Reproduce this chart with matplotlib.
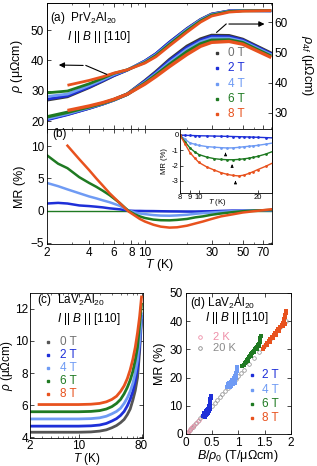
import numpy as np
import matplotlib
matplotlib.use('Agg')
import matplotlib.pyplot as plt
from matplotlib.ticker import FixedLocator, NullFormatter, LogLocator

plt.rcParams['font.family'] = ['Liberation Sans', 'DejaVu Sans']
plt.rcParams['mathtext.fontset'] = 'custom'
plt.rcParams['mathtext.rm'] = 'Liberation Sans'
plt.rcParams['mathtext.it'] = 'Liberation Sans:italic'
plt.rcParams['xtick.direction'] = 'in'
plt.rcParams['ytick.direction'] = 'in'
plt.rcParams['xtick.major.size'] = 3
plt.rcParams['ytick.major.size'] = 3
plt.rcParams['xtick.minor.size'] = 1.6
plt.rcParams['ytick.minor.size'] = 1.6
plt.rcParams['axes.linewidth'] = 0.6
plt.rcParams['xtick.major.width'] = 0.5
plt.rcParams['ytick.major.width'] = 0.5
plt.rcParams['xtick.minor.width'] = 0.4
plt.rcParams['ytick.minor.width'] = 0.4

nan = np.nan
fields = ['0 T', '2 T', '4 T', '6 T', '8 T']
colors = ['#3a3a3a', '#1e2fd8', '#6f9bf4', '#1f7a22', '#e8521e']
text_colors = ['#707070', '#1e2fd8', '#6f9bf4', '#1f7a22', '#e8521e']

# (a) PrV2Al20: rho (left axis) and rho_4f (right axis)
T_a = [2, 2.8, 4, 5, 6, 7.5, 10, 12, 15, 20, 25, 30, 40, 50, 80]
rho_a_0T = [26.9, 28.0, 31.0, 33.1, 34.9, 36.8, 39.8, 42.2, 46.0, 50.5, 53.5, 55.3, 56.3, 56.4, 56.3]
rho_a_2T = [27.2, 28.3, 31.2, 33.3, 35.0, 36.8, 39.8, 42.2, 46.0, 50.4, 53.4, 55.2, 56.3, 56.4, 56.3]
rho_a_4T = [28.1, 28.9, 31.7, 33.6, 35.3, 36.9, 39.6, 41.9, 45.6, 50.2, 53.3, 55.1, 56.2, 56.4, 56.3]
rho_a_6T = [29.3, 29.9, 32.3, 34.1, 35.7, 36.9, 39.3, 41.6, 45.3, 49.8, 53.0, 54.9, 56.1, 56.3, 56.4]
rho_a_8T = [nan, 31.8, 33.4, 34.6, 35.8, 36.9, 39.1, 41.2, 44.8, 49.3, 52.6, 54.6, 55.9, 56.2, 56.4]

rho4f_0T = [28.0, 29.6, 31.6, 33.0, 34.3, 36.2, 40.6, 43.6, 47.6, 52.0, 54.4, 55.6, 55.5, 54.3, 49.7]
rho4f_2T = [27.8, 29.5, 31.6, 33.0, 34.3, 36.2, 40.4, 43.3, 47.2, 51.5, 53.9, 55.2, 55.1, 54.0, 49.4]
rho4f_4T = [28.2, 29.8, 31.8, 33.1, 34.3, 36.2, 40.1, 42.9, 46.6, 50.9, 53.4, 54.6, 54.6, 53.6, 49.1]
rho4f_6T = [28.7, 30.2, 32.0, 33.2, 34.4, 36.2, 39.8, 42.5, 46.0, 50.2, 52.8, 54.0, 54.1, 53.2, 48.7]
rho4f_8T = [nan, 30.8, 32.3, 33.4, 34.5, 36.2, 39.5, 42.0, 45.3, 49.3, 52.0, 53.3, 53.6, 52.7, 48.3]

# (b) MR of PrV2Al20
T_b = [2, 2.4, 2.8, 3.4, 4, 4.5, 5, 5.6, 6.6, 7.6, 8.5, 9.2, 10, 11.5, 13, 15, 17, 20, 23, 26, 30, 35, 42, 50, 60, 80]
mr_b_2T = [1.1, 1.2, 1.1, 0.8, 0.7, 0.6, 0.5, 0.35, 0.2, 0.0, -0.05, -0.05, -0.07, -0.08, -0.1, -0.12, -0.13, -0.15, -0.15, -0.12, -0.1, -0.05, 0.0, 0.0, 0.0, 0.05]
mr_b_4T = [4.3, 3.8, 3.3, 2.7, 2.2, 1.9, 1.6, 1.3, 0.75, 0.05, -0.3, -0.45, -0.55, -0.7, -0.78, -0.8, -0.75, -0.65, -0.5, -0.4, -0.3, -0.2, -0.1, -0.05, 0.0, 0.05]
mr_b_6T = [8.6, 7.3, 6.6, 5.2, 4.3, 3.7, 3.1, 2.4, 1.2, 0.0, -0.6, -0.9, -1.15, -1.4, -1.5, -1.52, -1.45, -1.3, -1.05, -0.9, -0.65, -0.45, -0.25, -0.1, 0.0, 0.1]
mr_b_8T = [nan, nan, 10.1, 8.0, 6.3, 5.0, 3.9, 2.7, 1.2, -0.1, -0.8, -1.3, -1.7, -2.2, -2.5, -2.65, -2.6, -2.35, -2.0, -1.7, -1.3, -0.9, -0.6, -0.3, -0.1, 0.2]

# (b) inset
T_in = [8, 8.5, 9, 9.5, 10, 11, 12, 13, 14, 15, 16, 17, 18, 19, 20, 22, 24]
mr_in_2T = [0, -0.02, -0.03, -0.04, -0.05, -0.06, -0.07, -0.08, -0.09, -0.1, -0.11, -0.12, -0.13, -0.14, -0.15, -0.17, -0.19]
mr_in_4T = [0, -0.28, -0.52, -0.6, -0.68, -0.76, -0.8, -0.83, -0.85, -0.84, -0.81, -0.77, -0.74, -0.71, -0.68, -0.6, -0.52]
mr_in_6T = [0, -0.45, -0.85, -1.1, -1.28, -1.45, -1.55, -1.6, -1.62, -1.62, -1.6, -1.56, -1.52, -1.46, -1.4, -1.25, -1.07]
mr_in_8T = [0, -0.6, -1.15, -1.5, -1.8, -2.1, -2.3, -2.47, -2.58, -2.65, -2.68, -2.63, -2.52, -2.4, -2.27, -2.05, -1.82]
arrow_T = [13.7, 14.8, 15.4]
arrow_tip = [-0.98, -1.74, -2.82]
arrow_tail = [-1.4, -2.2, -3.25]

# (c) LaV2Al20 rho(T)
T_c = [2, 2.7, 5, 10, 15, 20, 25, 30, 35, 40, 45, 50, 55, 60, 65, 70, 75, 80]
rho_c_0T = [4.3, 4.3, 4.3, 4.3, 4.32, 4.37, 4.45, 4.58, 4.72, 4.9, 5.1, 5.4, 5.75, 6.3, 6.9, 7.7, 9.3, 11.3]
rho_c_2T = [4.68, 4.68, 4.68, 4.68, 4.7, 4.75, 4.85, 5.0, 5.15, 5.35, 5.6, 5.95, 6.35, 6.85, 7.5, 8.3, 9.7, 11.55]
rho_c_4T = [5.13, 5.13, 5.13, 5.13, 5.15, 5.2, 5.3, 5.45, 5.6, 5.8, 6.1, 6.45, 6.85, 7.35, 8.0, 8.8, 10.0, 11.7]
rho_c_6T = [5.58, 5.58, 5.58, 5.58, 5.6, 5.65, 5.75, 5.9, 6.1, 6.35, 6.7, 7.1, 7.55, 8.1, 8.8, 9.6, 11.0, 12.3]
rho_c_8T = [nan, 6.03, 6.03, 6.03, 6.05, 6.1, 6.2, 6.35, 6.55, 6.85, 7.2, 7.65, 8.2, 8.85, 9.6, 10.5, 11.5, 12.75]

# (d) Kohler plot of LaV2Al20
k_2T_x = [0.34, 0.35, 0.36, 0.37, 0.38, 0.39, 0.40, 0.41, 0.42, 0.43, 0.44, 0.45, 0.46, 0.36, 0.38, 0.40, 0.42,
          0.44, 0.45, 0.46, 0.46, 0.47, 0.47, 0.48, 0.48, 0.47, 0.46, 0.45, 0.43, 0.41, 0.39, 0.37]
k_2T_y = [6.3, 6.5, 6.8, 7.0, 7.2, 7.5, 7.7, 8.0, 8.2, 8.5, 8.8, 9.1, 9.5, 7.5, 8.0, 8.4, 8.9,
          9.4, 10.0, 10.6, 11.3, 11.8, 12.4, 12.9, 13.4, 10.2, 9.0, 8.2, 7.4, 7.0, 6.7, 6.2]
k_4T_x = [0.78, 0.80, 0.82, 0.84, 0.86, 0.88, 0.90, 0.92, 0.94, 0.80, 0.83, 0.86, 0.89, 0.92,
          0.94, 0.95, 0.96, 0.97, 0.97, 0.98, 0.96, 0.93, 0.90, 0.87, 0.84]
k_4T_y = [16.5, 16.8, 17.2, 17.5, 17.9, 18.3, 18.7, 19.0, 19.4, 17.6, 18.1, 18.6, 19.1, 19.8,
          20.4, 21.0, 21.7, 22.4, 23.0, 23.7, 20.0, 18.2, 17.6, 17.0, 16.6]
k_6T_x = [1.08, 1.10, 1.12, 1.14, 1.16, 1.18, 1.20, 1.22, 1.24, 1.26, 1.28, 1.30, 1.32, 1.34, 1.36,
          1.38, 1.40, 1.41, 1.42, 1.42, 1.43, 1.40, 1.36, 1.30, 1.24, 1.18]
k_6T_y = [24.0, 24.6, 25.2, 25.7, 26.2, 26.7, 27.2, 27.7, 28.2, 28.6, 29.1, 29.6, 30.0, 30.4, 30.9,
          31.4, 31.9, 32.6, 33.3, 34.0, 34.8, 31.2, 30.3, 29.0, 27.6, 26.0]
k_8T_x = [1.46, 1.49, 1.52, 1.55, 1.58, 1.61, 1.64, 1.67, 1.70, 1.73, 1.76, 1.79, 1.82, 1.85,
          1.86, 1.87, 1.88, 1.89, 1.90, 1.90, 1.88, 1.84, 1.78, 1.72, 1.66, 1.60, 1.54]
k_8T_y = [30.3, 31.0, 31.7, 32.4, 33.0, 33.7, 34.4, 35.1, 35.8, 36.5, 37.2, 37.9, 38.6, 39.3,
          40.0, 40.8, 41.5, 42.3, 43.0, 43.7, 39.0, 38.2, 36.6, 35.2, 34.0, 32.7, 31.6]
k_20K_x = [0.02, 0.05, 0.08, 0.11, 0.14, 0.17, 0.2, 0.24, 0.28, 0.32, 0.36, 0.4, 0.45, 0.5, 0.55, 0.6, 0.65,
           0.7, 0.75, 0.8, 0.85, 0.9, 0.95, 1.0, 1.05, 1.1, 1.2, 1.3, 1.4, 1.5, 1.6, 1.7, 1.8, 1.9]
k_20K_y = [0.3, 0.8, 1.4, 2.0, 2.6, 3.2, 3.8, 4.6, 5.5, 6.3, 7.1, 8.0, 9.0, 10.1, 11.1, 12.2, 13.2,
           14.3, 15.3, 16.4, 17.4, 18.5, 19.6, 20.6, 21.7, 22.8, 24.9, 27.1, 29.2, 31.4, 33.6, 35.8, 38.0, 40.2]
k_2K_x = [0.01, 0.03, 0.06, 0.09, 0.12, 0.15, 0.2, 0.25]
k_2K_y = [0.1, 0.5, 1.1, 1.7, 2.3, 2.9, 3.9, 5.0]

FS = 8.5
fig = plt.figure(figsize=(3.17, 4.66), dpi=100)
ax_a = fig.add_axes([0.1483, 0.7232, 0.7098, 0.2704])
ax_a2 = ax_a.twinx()
ax_b = fig.add_axes([0.1483, 0.4764, 0.7098, 0.2468])
ax_in = fig.add_axes([0.5678, 0.5858, 0.2902, 0.1373])
ax_c = fig.add_axes([0.0946, 0.0601, 0.3565, 0.3112])
ax_d = fig.add_axes([0.5852, 0.0687, 0.3328, 0.3026])


def legend_rows(ax, xm, xt, ys, labels, cols, tcols, marker='s', ms=1.8, open_marker=False, fs=FS):
    for y, lab, c, tc in zip(ys, labels, cols, tcols):
        if open_marker:
            ax.plot([xm], [y], marker=marker, ms=ms, mfc='none', mec=c, mew=0.6,
                    transform=ax.transAxes, clip_on=False)
        else:
            ax.plot([xm], [y], marker=marker, ms=ms, color=c, lw=0,
                    transform=ax.transAxes, clip_on=False)
        ax.text(xt, y, lab, color=tc, transform=ax.transAxes, va='center', fontsize=fs)


def log_xaxis(ax, lo, hi, ticks, labels):
    ax.set_xscale('log')
    ax.set_xlim(lo, hi)
    ax.xaxis.set_major_locator(FixedLocator(ticks))
    ax.set_xticklabels(labels)
    ax.xaxis.set_minor_locator(LogLocator(subs=np.arange(1, 10)))
    ax.xaxis.set_minor_formatter(NullFormatter())


# ---------- (a)
upper = [rho_a_0T, rho_a_2T, rho_a_4T, rho_a_6T, rho_a_8T]
lower = [rho4f_0T, rho4f_2T, rho4f_4T, rho4f_6T, rho4f_8T]
for u, c in zip(upper, colors):
    ax_a.plot(T_a, u, color=c, lw=2.0, solid_capstyle='butt')
for l, c in zip(lower, colors):
    ax_a2.plot(T_a, l, color=c, lw=2.4, solid_capstyle='butt')
log_xaxis(ax_a, 2, 81, [2, 4, 6, 8, 10, 30, 50, 70], [])
ax_a.set_ylim(17.4, 58.9)
ax_a.set_yticks([20, 30, 40, 50])
ax_a2.set_ylim(24.7, 66.3)
ax_a2.set_yticks([30, 40, 50, 60])
ax_a.tick_params(labelsize=FS, top=True, which='both', pad=2)
ax_a2.tick_params(labelsize=FS, pad=2)
ax_a.set_ylabel(r'$\rho$ (μΩcm)', fontsize=FS + 0.5)
ax_a.yaxis.set_label_coords(-0.10, 0.5)
ax_a2.set_ylabel(r'$\rho_{4f}$ (μΩcm)', fontsize=FS + 0.5, rotation=270, va='bottom')
ax_a2.yaxis.set_label_coords(1.12, 0.5)
ax_a.text(0.013, 0.88, r'(a)  PrV$_2$Al$_{20}$', transform=ax_a.transAxes, fontsize=FS, va='center')
ax_a.text(0.09, 0.73, r'$I$ || $B$ || [110]', transform=ax_a.transAxes, fontsize=FS, va='center')
legend_rows(ax_a2, 0.756, 0.804, [0.60, 0.482, 0.356, 0.235, 0.115], fields, colors, text_colors)
# arrows pointing to the axes
ax_a2.plot([0.265, 0.173], [0.434, 0.504], color='k', lw=0.8, transform=ax_a2.transAxes)
ax_a2.annotate('', xy=(0.04, 0.508), xytext=(0.173, 0.504), xycoords='axes fraction',
               arrowprops=dict(arrowstyle='-|>', color='k', lw=0.8, mutation_scale=8))
ax_a2.plot([0.754, 0.796], [0.767, 0.833], color='k', lw=0.8, transform=ax_a2.transAxes)
ax_a2.annotate('', xy=(0.979, 0.833), xytext=(0.796, 0.833), xycoords='axes fraction',
               arrowprops=dict(arrowstyle='-|>', color='k', lw=0.8, mutation_scale=8))

# ---------- (b)
ax_b.axhline(0, color=colors[3], lw=1.0)
for m, c in zip([mr_b_2T, mr_b_4T, mr_b_6T, mr_b_8T], colors[1:]):
    ax_b.plot(T_b, m, color=c, lw=1.8)
log_xaxis(ax_b, 2, 81, [2, 4, 6, 8, 10, 30, 50, 70], ['2', '4', '6', '8', '10', '30', '50', '70'])
ax_b.set_ylim(-5.2, 12.7)
ax_b.set_yticks([-5, 0, 5, 10])
ax_b.tick_params(labelsize=FS, top=True, right=True, which='both', pad=2)
ax_b.set_ylabel('MR (%)', fontsize=FS + 0.5)
ax_b.yaxis.set_label_coords(-0.093, 0.5)
ax_b.set_xlabel('$T$ (K)', fontsize=FS + 0.5)
ax_b.xaxis.set_label_coords(0.5, -0.113)
ax_b.text(0.022, 0.955, '(b)', transform=ax_b.transAxes, fontsize=FS, va='center')

# inset
for m, c in zip([mr_in_2T, mr_in_4T, mr_in_6T, mr_in_8T], colors[1:]):
    ax_in.plot(T_in, m, color=c, lw=1.0, marker='.', ms=2)
for t, tip, tail in zip(arrow_T, arrow_tip, arrow_tail):
    ax_in.annotate('', xy=(t, tip), xytext=(t, tail),
                   arrowprops=dict(arrowstyle='-|>', color='k', lw=0.6, mutation_scale=4))
log_xaxis(ax_in, 8, 23.7, [8, 9, 10, 20], ['8', '9', '10', '20'])
ax_in.set_ylim(-3.8, 0.39)
ax_in.set_yticks([-3, -2, -1, 0])
ax_in.set_yticklabels(['-3', '-2', '-1', '0'])
ax_in.tick_params(labelsize=5.5, which='both', pad=1, length=2)
ax_in.tick_params(which='minor', length=1.2)
ax_in.set_ylabel('MR (%)', fontsize=5.5)
ax_in.yaxis.set_label_coords(-0.125, 0.5)
ax_in.set_xlabel('$T$ (K)', fontsize=5.5)
ax_in.xaxis.set_label_coords(0.40, -0.07)

# ---------- (c)
for r, c in zip([rho_c_0T, rho_c_2T, rho_c_4T, rho_c_6T, rho_c_8T], ['#555555'] + colors[1:]):
    ax_c.plot(T_c, r, color=c, lw=2.0)
log_xaxis(ax_c, 2, 84, [2, 10, 80], ['2', '10', '80'])
ax_c.set_ylim(3.94, 13.0)
ax_c.set_yticks([4, 6, 8, 10, 12])
ax_c.tick_params(labelsize=FS, top=True, right=True, which='both', pad=1.5)
ax_c.set_ylabel(r'$\rho$ (μΩcm)', fontsize=FS)
ax_c.yaxis.set_label_coords(-0.13, 0.5)
ax_c.set_xlabel('$T$ (K)', fontsize=FS)
ax_c.xaxis.set_label_coords(0.5, -0.093)
ax_c.text(0.062, 0.952, r'(c)  LaV$_2$Al$_{20}$', transform=ax_c.transAxes, fontsize=FS, va='center')
ax_c.text(0.24, 0.82, r'$I$ || $B$ || [110]', transform=ax_c.transAxes, fontsize=FS, va='center')
legend_rows(ax_c, 0.162, 0.265, [0.662, 0.572, 0.483, 0.393, 0.303], fields, ['#555555'] + colors[1:], text_colors)

# ---------- (d)
ax_d.plot(k_20K_x, k_20K_y, ls='none', marker='o', ms=2.6, mfc='none', mec='#8a8a8a', mew=0.5)
ax_d.plot(k_2K_x, k_2K_y, ls='none', marker='o', ms=2.6, mfc='none', mec='#ee8fa8', mew=0.5)
for kx, ky, c in zip([k_2T_x, k_4T_x, k_6T_x, k_8T_x], [k_2T_y, k_4T_y, k_6T_y, k_8T_y], colors[1:]):
    ax_d.plot(kx, ky, ls='none', marker='s', ms=2.8, color=c, mew=0)
ax_d.set_xlim(0, 2)
ax_d.set_ylim(0, 50)
ax_d.set_xticks([0, 0.5, 1, 1.5, 2])
ax_d.set_xticklabels(['0', '0.5', '1', '1.5', '2'])
ax_d.set_yticks([0, 10, 20, 30, 40, 50])
ax_d.tick_params(labelsize=FS, top=True, right=True, pad=2)
ax_d.set_ylabel('MR (%)', fontsize=FS + 0.5)
ax_d.yaxis.set_label_coords(-0.185, 0.5)
ax_d.set_xlabel(r'$B/\rho_0$ (T/μΩcm)', fontsize=FS + 0.5)
ax_d.xaxis.set_label_coords(0.5, -0.1)
ax_d.text(0.043, 0.929, r'(d) LaV$_2$Al$_{20}$', transform=ax_d.transAxes, fontsize=FS, va='center')
ax_d.text(0.185, 0.82, r'$I$ || $B$ || [110]', transform=ax_d.transAxes, fontsize=FS, va='center')
legend_rows(ax_d, 0.137, 0.264, [0.69, 0.612], ['2 K', '20 K'], ['#ee8fa8', '#8a8a8a'],
            ['#ee8fa8', '#8a8a8a'], marker='o', ms=2.6, open_marker=True, fs=8)
legend_rows(ax_d, 0.627, 0.728, [0.418, 0.312, 0.213, 0.111], fields[1:], colors[1:], text_colors[1:])

fig.savefig('out.png', dpi=100)
